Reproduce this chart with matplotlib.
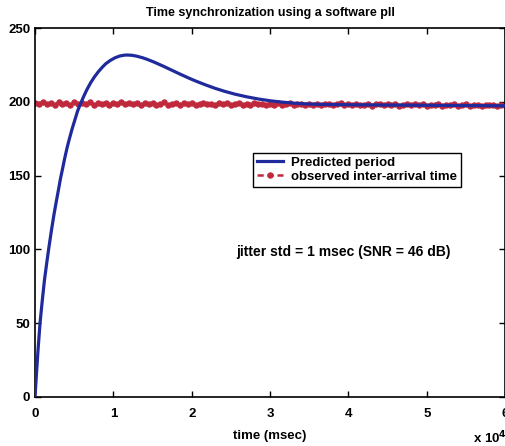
import numpy as np
import matplotlib

matplotlib.use("Agg")
import matplotlib.pyplot as plt
from matplotlib.ticker import FuncFormatter

plt.rcParams["font.family"] = ["Liberation Sans", "DejaVu Sans"]
plt.rcParams["font.weight"] = "bold"

# predicted period from the software pll (msec vs msec)
pred_t = [0, 200, 400, 640, 900, 1200, 1500, 1790, 2100, 2400, 2700, 2980, 3250,
          3490, 3800, 4100, 4340, 4700, 5100, 5450, 5840, 6200, 6600, 7110, 7600,
          8100, 8600, 9030, 9600, 10200, 10800, 11400, 11800, 12400, 13000, 13700,
          14400, 15200, 16300, 17300, 18500, 19700, 20500, 21700, 23000, 24200,
          25500, 27000, 28500, 30000, 31500, 33000, 34500, 36000, 38000, 42000,
          48000, 54000, 60000]
pred_period = [0, 17, 33, 50, 64, 79, 91, 102, 113, 123, 132, 140, 148,
               154, 162, 169, 174, 181, 188, 194, 199, 203.5, 208, 213, 217,
               220.5, 223.5, 225.8, 228, 229.8, 231, 231.6, 231.7, 231.5, 230.9, 229.9,
               228.6, 226.9, 224.3, 221.8, 218.8, 215.9, 214.1, 211.6, 209.1, 207.1,
               205.2, 203.4, 201.9, 200.7, 199.8, 199.1, 198.6, 198.3, 198.1, 197.9,
               197.7, 197.5, 197.3]

# observed inter-arrival time, one sample every 500 msec
obs_t = np.arange(0, 60001, 500)
obs_period = [
    199.5, 198.2, 199.8, 198.6, 199.1, 197.9, 199.6, 198.4, 199.3, 198.0,
    199.7, 198.5, 199.0, 198.3, 199.9, 198.1, 199.2, 198.7, 199.4, 197.8,
    199.1, 198.6, 199.8, 198.2, 198.9, 198.4, 199.5, 197.9, 199.0, 198.5,
    199.3, 198.1, 198.8, 199.6, 198.0, 198.7, 199.2, 197.8, 198.9, 198.3,
    199.4, 197.9, 198.6, 199.1, 198.2, 198.8, 197.7, 199.0, 198.4, 198.9,
    197.8, 198.6, 199.2, 198.0, 198.5, 197.6, 198.9, 198.2, 198.7, 197.9,
    198.8, 198.1, 199.0, 197.7, 198.4, 198.9, 197.8, 198.3, 198.7, 197.6,
    198.5, 198.0, 198.8, 197.5, 198.3, 198.6, 197.7, 198.2, 198.9, 197.6,
    198.4, 197.9, 198.6, 197.5, 198.1, 198.7, 197.4, 198.2, 198.5, 197.6,
    198.3, 197.8, 198.6, 197.3, 198.0, 198.4, 197.5, 198.2, 197.7, 198.5,
    197.4, 198.1, 197.8, 198.3, 197.2, 198.0, 197.6, 198.4, 197.3, 197.9,
    198.2, 197.4, 197.8, 198.1, 197.2, 197.9, 197.5, 198.0, 197.3, 197.7, 197.6,
]

x_ticks = [0, 10000, 20000, 30000, 40000, 50000, 60000]
y_ticks = [0, 50, 100, 150, 200, 250]

fig = plt.figure(figsize=(5.06, 4.46), dpi=100)
ax = fig.add_axes([0.0692, 0.1099, 0.929, 0.8273])

ax.plot(obs_t, obs_period, "--o", color="#c0283c", lw=1.8, ms=3.6,
        dashes=(2.5, 1.5), label="observed inter-arrival time", zorder=2)
ax.plot(pred_t, pred_period, "-", color="#1f2a9c", lw=2.3,
        label="Predicted period", zorder=3)

ax.set_xlim(0, 60000)
ax.set_ylim(0, 250)
ax.set_xticks(x_ticks)
ax.set_yticks(y_ticks)
ax.xaxis.set_major_formatter(FuncFormatter(lambda v, p: f"{v / 1e4:g}"))
ax.tick_params(direction="in", top=True, right=True, labelsize=9.5, length=4, width=1)
ax.tick_params(axis="x", pad=8)
for s in ax.spines.values():
    s.set_linewidth(1.2)

ax.set_title("Time synchronization using a software pll", fontsize=9,
             fontweight="bold", pad=9)
ax.set_xlabel("time (msec)", fontsize=9.5, fontweight="bold", labelpad=7)
fig.text(0.935, 0.006, "x 10$^4$", fontsize=9.5, fontweight="bold")

handles, labels = ax.get_legend_handles_labels()
leg = ax.legend(handles[::-1], labels[::-1], loc="upper left",
                bbox_to_anchor=(0.449, 0.68), fontsize=9.5, handlelength=2.0,
                fancybox=False, framealpha=1, edgecolor="black",
                borderpad=0.3, labelspacing=0.15, handletextpad=0.6)
leg.get_frame().set_linewidth(1.0)

ax.text(25700, 98, "jitter std = 1 msec (SNR = 46 dB)", fontsize=10,
        va="center", ha="left")

fig.savefig("out.png", dpi=100)
